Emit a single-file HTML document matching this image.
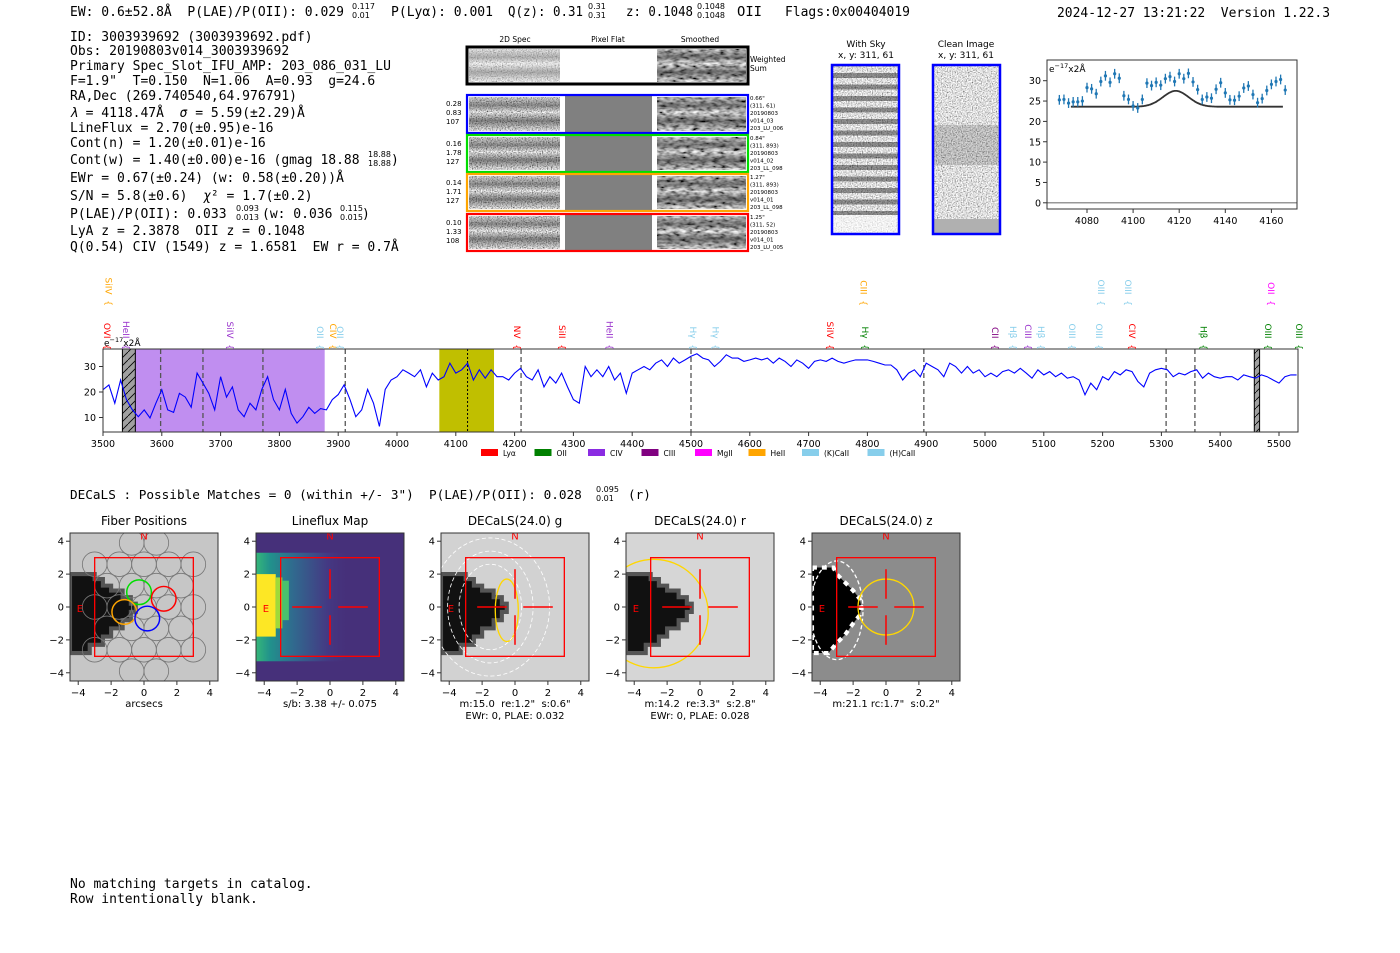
<!DOCTYPE html>
<html><head><meta charset="utf-8">
<style>
html,body{margin:0;padding:0;background:#fff;}
svg{display:block;}
text{white-space:pre;}
.m{font-family:"DejaVu Sans Mono","Liberation Mono",monospace;font-size:13px;fill:#000;}
.s{font-family:"DejaVu Sans","Liberation Sans",sans-serif;fill:#000;}
</style></head>
<body>
<svg id="root" width="1400" height="953" viewBox="0 0 1400 953" xmlns="http://www.w3.org/2000/svg" xml:space="preserve">
<defs>
<filter id="nz" x="0" y="0" width="1" height="1"><feTurbulence type="fractalNoise" baseFrequency="0.8" numOctaves="1" seed="4"/><feColorMatrix type="matrix" values="2.2 0 0 0 -0.45 2.2 0 0 0 -0.45 2.2 0 0 0 -0.45 0 0 0 0 1"/></filter>
<filter id="nzs" x="0" y="0" width="1" height="1"><feTurbulence type="fractalNoise" baseFrequency="0.15 0.35" numOctaves="2" seed="7"/><feColorMatrix type="matrix" values="1.8 0 0 0 -0.35 1.8 0 0 0 -0.35 1.8 0 0 0 -0.35 0 0 0 0 1"/></filter>
<linearGradient id="band2" x1="0" y1="0" x2="0" y2="1"><stop offset="0" stop-color="#000" stop-opacity="0.1"/><stop offset="0.25" stop-color="#000" stop-opacity="0.45"/><stop offset="0.45" stop-color="#000" stop-opacity="0"/><stop offset="0.7" stop-color="#000" stop-opacity="0.5"/><stop offset="1" stop-color="#000" stop-opacity="0"/></linearGradient>
<pattern id="skyp" width="68" height="11.5" patternUnits="userSpaceOnUse"><rect y="4" width="68" height="5" fill="#000" fill-opacity="0.4"/></pattern>
<pattern id="hatch" width="8" height="8" patternUnits="userSpaceOnUse"><path d="M0 8 L8 0" stroke="#000" stroke-width="0.8"/></pattern>
<linearGradient id="vir" x1="0" y1="0" x2="1" y2="0"><stop offset="0" stop-color="#35b779"/><stop offset="0.15" stop-color="#21918c"/><stop offset="0.4" stop-color="#31688e"/><stop offset="0.75" stop-color="#443983"/><stop offset="1" stop-color="#46307a" stop-opacity="0"/></linearGradient>
<clipPath id="specClip"><rect x="103" y="349" width="1195" height="83"/></clipPath>
</defs>

<g>
<text class="m" x="70" y="16">EW: 0.6±52.8Å  P(LAE)/P(OII): 0.029</text>
<text class="s" x="352" y="9" font-size="8">0.117</text>
<text class="s" x="352" y="18" font-size="8">0.01</text>
<text class="m" x="391" y="16" textLength="102" lengthAdjust="spacingAndGlyphs">P(Lyα): 0.001</text>
<text class="m" x="508" y="16" textLength="75" lengthAdjust="spacingAndGlyphs">Q(z): 0.31</text>
<text class="s" x="588" y="9" font-size="8">0.31</text>
<text class="s" x="588" y="18" font-size="8">0.31</text>
<text class="m" x="626" y="16" textLength="67" lengthAdjust="spacingAndGlyphs">z: 0.1048</text>
<text class="s" x="697" y="9" font-size="8">0.1048</text>
<text class="s" x="697" y="18" font-size="8">0.1048</text>
<text class="m" x="737" y="16" textLength="25" lengthAdjust="spacingAndGlyphs">OII</text>
<text class="m" x="785" y="16" textLength="125" lengthAdjust="spacingAndGlyphs">Flags:0x00404019</text>
<text class="m" x="1057" y="17" textLength="273" lengthAdjust="spacingAndGlyphs">2024-12-27 13:21:22  Version 1.22.3</text>
</g>

<g>
<text class="m" x="70" y="41">ID: 3003939692 (3003939692.pdf)</text>
<text class="m" x="70" y="55">Obs: 20190803v014_3003939692</text>
<text class="m" x="70" y="70">Primary Spec_Slot_IFU_AMP: 203_086_031_LU</text>
<text class="m" x="70" y="85">F=1.9"  T=0.150  N=1.06  A=0.93  g=24.6</text>
<text class="m" x="70" y="100">RA,Dec (269.740540,64.976791)</text>
<text class="m" x="70" y="117"><tspan font-style="italic">λ</tspan> = 4118.47Å  <tspan font-style="italic">σ</tspan> = 5.59(±2.29)Å</text>
<text class="m" x="70" y="132">LineFlux = 2.70(±0.95)e-16</text>
<text class="m" x="70" y="147">Cont(n) = 1.20(±0.01)e-16</text>
<text class="m" x="70" y="164">Cont(w) = 1.40(±0.00)e-16 (gmag 18.88</text>
<text class="s" x="368" y="157" font-size="8">18.88</text>
<text class="s" x="368" y="166" font-size="8">18.88</text>
<text class="m" x="391" y="164">)</text>
<text class="m" x="70" y="182">EWr = 0.67(±0.24) (w: 0.58(±0.20))Å</text>
<text class="m" x="70" y="200">S/N = 5.8(±0.6)  <tspan font-style="italic">χ</tspan>² = 1.7(±0.2)</text>
<text class="m" x="70" y="218">P(LAE)/P(OII): 0.033</text>
<text class="s" x="236" y="211" font-size="8">0.093</text>
<text class="s" x="236" y="220" font-size="8">0.013</text>
<text class="m" x="262" y="218">(w: 0.036</text>
<text class="s" x="340" y="211" font-size="8">0.115</text>
<text class="s" x="340" y="220" font-size="8">0.015</text>
<text class="m" x="362" y="218">)</text>
<text class="m" x="70" y="235">LyA z = 2.3878  OII z = 0.1048</text>
<text class="m" x="70" y="251">Q(0.54) CIV (1549) z = 1.6581  EW r = 0.7Å</text>
</g>

<g class="s">
<text x="515" y="42" font-size="7.5" text-anchor="middle">2D Spec</text>
<text x="608" y="42" font-size="7.5" text-anchor="middle">Pixel Flat</text>
<text x="700" y="42" font-size="7.5" text-anchor="middle">Smoothed</text>
<g id="rows2d"></g>
</g>

<g class="s">
<text x="866" y="47" font-size="9" text-anchor="middle">With Sky</text>
<text x="866" y="58" font-size="9" text-anchor="middle">x, y: 311, 61</text>
<rect x="832" y="65" width="67" height="169" filter="url(#nz)"/>
<rect x="832" y="65" width="67" height="169" fill="#fff" fill-opacity="0.25"/>
<rect x="832" y="65" width="67" height="150" fill="url(#skyp)"/>
<rect x="832" y="215" width="67" height="19" fill="#fff" fill-opacity="0.6"/>
<rect x="832" y="65" width="67" height="169" fill="none" stroke="#0000ff" stroke-width="2.5"/>
<text x="966" y="47" font-size="9" text-anchor="middle">Clean Image</text>
<text x="966" y="58" font-size="9" text-anchor="middle">x, y: 311, 61</text>
<rect x="933" y="65" width="67" height="169" filter="url(#nz)"/>
<rect x="933" y="65" width="67" height="169" fill="#fff" fill-opacity="0.25"/>
<rect x="933" y="125" width="67" height="40" fill="#000" fill-opacity="0.15"/>
<rect x="933" y="219" width="67" height="15" fill="#b0b0b0"/>
<rect x="933" y="65" width="67" height="169" fill="none" stroke="#0000ff" stroke-width="2.5"/>
</g>

<g id="fitChart" class="s"></g>
<g id="specChart" class="s"></g>

<text class="m" x="70" y="499" style="font-size:12.7px">DECaLS : Possible Matches = 0 (within +/- 3")  P(LAE)/P(OII): 0.028</text>
<text class="s" x="596" y="492" font-size="8">0.095</text>
<text class="s" x="596" y="501" font-size="8">0.01</text>
<text class="m" x="628" y="499" style="font-size:12.7px">(r)</text>

<g id="cutouts" class="s"></g>

<text class="m" x="70" y="888">No matching targets in catalog.</text>
<text class="m" x="70" y="903">Row intentionally blank.</text>
</svg>

<script>
const specStart = 3500;
const specStep = 10;
const specFlux = [20.9,22.8,15.6,24.7,17,13,10.3,13,9.8,15.6,
20.9,13,12,19.5,18,14,27.4,23.5,19.5,13,
26,18,22,13,10.3,15.6,13,21,26,17,
13,21,11.6,7.8,10.3,14,11.6,13.5,13,17,
19,22.8,17,10.3,13,21,15.6,6.5,21,24.7,
26,28.7,27.4,26,28.7,22,27.4,24.7,26,31.3,
27.4,28.7,31.3,24.7,28.7,25.4,28.7,26,26,24.7,
27.4,29.3,26,24.7,28.7,22,26,23.5,27.4,22,
17,15.6,30,26,28.7,26,30,24.7,27.4,19.5,
27.4,28.7,30,28.7,31.3,32.6,30,33.3,31.3,32.6,
34,35,33.3,32.6,30,32,34.6,33.3,33.3,32,
32.6,33.3,32.6,33.3,31.3,33.3,32,30,32.6,31.3,
29.3,32,32.6,32,33.3,32,31.3,32,32.6,32.6,
32.6,32,31.3,30.6,30.6,28.7,24.7,27.4,28.7,26,
31.3,30,28.7,26,31.3,30,27.4,30,27.4,28.7,
26,27.4,26,28,28.7,27.4,29.3,27.4,25.4,28.7,
26.7,28,26,27.4,25.4,26,24.7,18.9,23.5,20.9,
26,24.7,28,26.7,28.7,28,24.1,22,27.4,28.7,
29.3,28.7,26,27.4,26.7,28,28.7,25.4,27.4,26,
25.4,26,26,24.7,26.7,26,25.4,26.7,26,24.7,
23.5,26,26.7,26.7];
const specXTicks = [3500,3600,3700,3800,3900,4000,4100,4200,4300,4400,4500,4600,4700,4800,4900,5000,5100,5200,5300,5400,5500];
const specYTicks = [10,20,30];
const maskBands = [[3533,3555],[5458,5467]];
const civBand = [3555,3877];
const fitBand = [4072,4165];
const dashLines = [3598,3670,3772,3912,4211,4500,4896,5308,5357];
const dotLine = [4120];
const lineNamesLow = ["OVI","HeII","SiIV","OII","CIV","OII","NV","SiII","HeII","Hγ","Hγ","SiIV","Hγ","CII","Hβ","CIII","Hβ","OIII","OIII","CIV","Hβ","OIII","OIII"];
const lineWaveLow = [3507,3539,3716,3869,3891,3903,4204,4281,4361,4503,4542,4736,4796,5017,5048,5073,5095,5148,5194,5250,5372,5481,5534];
const lineColorLow = ["#ff0000","#9932cc","#9932cc","#87ceeb","#ffa500","#87ceeb","#ff0000","#ff0000","#9932cc","#87ceeb","#87ceeb","#ff0000","#008000","#800080","#87ceeb","#9932cc","#87ceeb","#87ceeb","#87ceeb","#ff0000","#008000","#008000","#008000"];
const lineNamesHigh = ["SiIV","CIII","OIII","OIII","OII"];
const lineWaveHigh = [3509,4793,5197,5243,5486];
const lineColorHigh = ["#ffa500","#ffa500","#87ceeb","#87ceeb","#ff00ff"];
const legendNames = ["Lyα","OII","CIV","CIII","MgII","HeII","(K)CaII","(H)CaII"];
const legendColors = ["#ff0000","#008000","#8a2be2","#800080","#ff00ff","#ffa500","#87ceeb","#87ceeb"];

const fitLam = [4068,4070,4072,4074,4076,4078,4080,4082,4084,4086,4088,4090,4092,4094,4096,4098,4100,4102,4104,4106,4108,4110,4112,4114,4116,4118,4120,4122,4124,4126,4128,4130,4132,4134,4136,4138,4140,4142,4144,4146,4148,4150,4152,4154,4156,4158,4160,4162,4164,4166];
const fitFlux = [25.3,25.4,24.5,24.8,24.8,25,28.3,28,26.8,29.8,31.2,29.6,31.7,30.6,26.3,25.4,23.8,23.3,25.4,29.4,28.8,29.6,28.9,30.5,31,29.8,31.7,30.5,31.8,29.7,27.8,25.4,26,25.7,27.9,29.5,27,25.3,25.2,26.2,28.2,28.7,26.6,24.6,25.6,27.6,29.1,29.8,30.3,27.7];
const fitErr = [1.2];
const modelParams = [23.6, 3.9, 4118.5, 5.59];
const modelRange = [4073,4165];
const fitXTicks = [4080,4100,4120,4140,4160];
const fitYTicks = [0,5,10,15,20,25,30];

const NS = "http://www.w3.org/2000/svg";
function el(tag, attrs, parent){const e=document.createElementNS(NS,tag);for(const k in attrs)e.setAttribute(k,attrs[k]);parent.appendChild(e);return e;}

(function(){
const g=document.getElementById('specChart');
const X=l=>103+(l-3500)*0.588;
const Y=v=>392-(v-20)*2.55;
const cg=el('g',{'clip-path':'url(#specClip)'},g);


let b=el('rect',{x:X(civBand[0]),y:349,width:X(civBand[1])-X(civBand[0]),height:83,fill:'#c08ef0'},cg);


b=el('rect',{x:X(fitBand[0]),y:349,width:X(fitBand[1])-X(fitBand[0]),height:83,fill:'#c0bf00'},cg);


maskBands.forEach(m=>{
 const r=el('rect',{x:X(m[0]),y:349,width:X(m[1])-X(m[0]),height:83,fill:'#a0a0a0',stroke:'#000','stroke-width':1},cg);
 
 
 const h=el('rect',{x:X(m[0]),y:349,width:X(m[1])-X(m[0]),height:83,fill:'url(#hatch)'},cg);
 
 
});
dashLines.forEach(l=>{
 const d=el('line',{x1:X(l),x2:X(l),y1:349,y2:432,stroke:'#555','stroke-width':1.3,'stroke-dasharray':'5,3'},cg);
 
 
});
dotLine.forEach(l=>{
 const d=el('line',{x1:X(l),x2:X(l),y1:349,y2:432,stroke:'#000','stroke-width':1,'stroke-dasharray':'2,2'},cg);
 
 
});
const pts=specFlux.map((v,i)=>X(specStart+i*specStep).toFixed(1)+','+Y(v).toFixed(1)).join(' ');
const pl=el('polyline',{points:pts,fill:'none',stroke:'#0000ff','stroke-width':1.1},cg);


const fr=el('rect',{x:103,y:349,width:1195,height:83,fill:'none',stroke:'#333','stroke-width':1},g);


specXTicks.forEach(t=>{
 const tk=el('line',{x1:X(t),x2:X(t),y1:432,y2:436,stroke:'#333'},g);
 
 
 const tx=el('text',{x:X(t),y:447,'font-size':9.5,'text-anchor':'middle'},g);
 tx.textContent=t;
 
 
});
specYTicks.forEach(t=>{
 const tk=el('line',{x1:99,x2:103,y1:Y(t),y2:Y(t),stroke:'#333'},g);
 
 
 const tx=el('text',{x:96,y:Y(t)+3.5,'font-size':9.5,'text-anchor':'end'},g);
 tx.textContent=t;
 
 
});
const u=el('text',{x:104,y:346,'font-size':9},g);
u.innerHTML='e<tspan dy="-4" font-size="6.5">−17</tspan><tspan dy="4">x2Å</tspan>';


function labels(names,waves,colors,yEnd,nm){
 names.forEach((n,i)=>{
  const t=el('text',{transform:`translate(${X(waves[i])-3},${yEnd}) rotate(90)`,'font-size':9,'text-anchor':'end',fill:colors[i]},g);
  t.textContent=n+'  {';
  
  
 });
}
labels(lineNamesLow,lineWaveLow,lineColorLow,350,'line-label');
labels(lineNamesHigh,lineWaveHigh,lineColorHigh,306,'line-label-upper');
legendNames.forEach((n,i)=>{
 const x0=481+i*53.5+(i==7?12:0);
 const r=el('rect',{x:x0,y:449,width:17,height:7,fill:legendColors[i]},g);
 
 
 const t=el('text',{x:x0+22,y:456,'font-size':7.5},g);
 t.textContent=n;
 
 
});
})();

(function(){
const g=document.getElementById('fitChart');
const X=l=>1087+(l-4080)*2.305;
const Y=v=>202.8-v*4.07;
const z=el('line',{x1:1047,x2:1297,y1:Y(0),y2:Y(0),stroke:'#777','stroke-width':1.2},g);


const mp=[];
for(let l=modelRange[0];l<=modelRange[1];l+=0.5){const v=modelParams[0]+modelParams[1]*Math.exp(-0.5*Math.pow((l-modelParams[2])/modelParams[3],2));mp.push(X(l).toFixed(1)+','+Y(v).toFixed(1));}
const m=el('polyline',{points:mp.join(' '),fill:'none',stroke:'#333','stroke-width':1.8},g);


fitLam.forEach((l,i)=>{
 const e=el('line',{x1:X(l),x2:X(l),y1:Y(fitFlux[i]+fitErr[0]),y2:Y(fitFlux[i]-fitErr[0]),stroke:'#1f77b4','stroke-width':1.3},g);
 
 
 const c=el('circle',{cx:X(l),cy:Y(fitFlux[i]),r:1.6,fill:'#1f77b4'},g);
 
 
});
const fr=el('rect',{x:1047,y:60,width:250,height:149,fill:'none',stroke:'#333'},g);


fitXTicks.forEach(t=>{
 const tk=el('line',{x1:X(t),x2:X(t),y1:209,y2:213,stroke:'#333'},g);
 
 
 const tx=el('text',{x:X(t),y:224,'font-size':9.5,'text-anchor':'middle'},g);
 tx.textContent=t;
 
 
});
fitYTicks.forEach(t=>{
 const tk=el('line',{x1:1043,x2:1047,y1:Y(t),y2:Y(t),stroke:'#333'},g);
 
 
 const tx=el('text',{x:1041,y:Y(t)+3.5,'font-size':9.5,'text-anchor':'end'},g);
 tx.textContent=t;
 
 
});
const u=el('text',{x:1049,y:72,'font-size':9},g);
u.innerHTML='e<tspan dy="-4" font-size="6.5">−17</tspan><tspan dy="4">x2Å</tspan>';


})();

(function(){
const g=document.getElementById('rows2d');
const rows=[{y:47,h:37,c:'#000',l:null,r:['Weighted','Sum']},
{y:95,h:38,c:'#0000ff',l:['0.28','0.83','107'],r:['0.66"','(311, 61)','20190803','v014_03','203_LU_006']},
{y:135,h:37,c:'#00dd00',l:['0.16','1.78','127'],r:['0.84"','(311, 893)','20190803','v014_02','203_LL_098']},
{y:174,h:37,c:'#ffa500',l:['0.14','1.71','127'],r:['1.27"','(311, 893)','20190803','v014_01','203_LL_098']},
{y:214,h:37,c:'#ff0000',l:['0.10','1.33','108'],r:['1.25"','(311, 52)','20190803','v014_01','203_LU_005']}];
rows.forEach((r,i)=>{
 const a=el('rect',{x:469,y:r.y+2,width:91,height:r.h-4,filter:'url(#nz)'},g);
 
 
 el('rect',{x:469,y:r.y+2,width:91,height:r.h-4,fill:'url(#band2)'},g);
 el('rect',{x:469,y:r.y+2,width:91,height:r.h-4,fill:'#fff','fill-opacity':i==0?0.4:0.1},g);
 const p=el('rect',{x:565,y:r.y+1,width:87,height:r.h-2,fill:i==0?'#fff':'#808080'},g);
 
 
 const s=el('rect',{x:657,y:r.y+2,width:89,height:r.h-4,filter:'url(#nzs)'},g);
 
 
 el('rect',{x:657,y:r.y+2,width:89,height:r.h-4,fill:'url(#band2)'},g);
 const f=el('rect',{x:467,y:r.y,width:281,height:r.h,fill:'none',stroke:r.c,'stroke-width':i==0?3:2.2},g);
 
 
 if(r.l){r.l.forEach((t,j)=>{const tx=el('text',{x:446,y:r.y+11+j*9,'font-size':7},g);tx.textContent=t;});}
 const fs=i==0?7.5:5.5, lh=i==0?9:7.5;
 r.r.forEach((t,j)=>{const tx=el('text',{x:750,y:r.y+(i==0?15:5)+j*lh,'font-size':fs},g);tx.textContent=t;});
});
})();

(function(){
const g=document.getElementById('cutouts');
const lefts=[70,256,441,626,812];
const titles=['Fiber Positions','Lineflux Map','DECaLS(24.0) g','DECaLS(24.0) r','DECaLS(24.0) z'];
const cap1=['arcsecs','s/b: 3.38 +/- 0.075','m:15.0  re:1.2"  s:0.6"','m:14.2  re:3.3"  s:2.8"','m:21.1 rc:1.7"  s:0.2"'];
const cap2=['','','EWr: 0, PLAE: 0.032','EWr: 0, PLAE: 0.028',''];
const blob="-4.5,2 -3,2 -3,1.7 -2.5,1.7 -2.5,1.3 -2,1.3 -2,1 -1.3,1 -1.3,0.6 -0.8,0.6 -0.8,0.2 -0.5,0.2 -0.5,-0.3 -0.8,-0.3 -0.8,-0.8 -1.3,-0.8 -1.3,-1.3 -2,-1.3 -2,-1.8 -2.5,-1.8 -2.5,-2.3 -3.3,-2.3 -3.3,-2.8 -4.5,-2.8";
const blobZ="-4.5,2.4 -3.2,2.4 -3,2 -2.5,1.5 -2,1 -1.6,0.5 -1.5,0 -1.6,-0.5 -2,-1 -2.5,-1.7 -3,-2.2 -3.5,-2.8 -4.5,-2.8";
lefts.forEach((L,i)=>{
 const cx=L+74, cy=607, S=148/9;
 const P=(x,y)=>[cx+x*S,cy-y*S];
 const clipId='cc'+i;
 const cp=el('clipPath',{id:clipId},g);
 el('rect',{x:L,y:533,width:148,height:148},cp);
 const pg=el('g',{'clip-path':`url(#${clipId})`},g);
 
 
 const bg=['#c6c6c6','#46307a','#d2d2d2','#d6d6d6','#8c8c8c'][i];
 el('rect',{x:L,y:533,width:148,height:148,fill:bg},pg);
 const tg=el('g',{transform:`translate(${cx},${cy}) scale(${S},${-S})`},pg);
 if(i==1){
  el('rect',{x:-4.5,y:-3.3,width:5.8,height:6.6,fill:'url(#vir)'},tg);
  el('rect',{x:-4.5,y:-1.8,width:1.2,height:3.8,fill:'#fde725'},tg);
  el('rect',{x:-3.3,y:-1.3,width:0.4,height:3.1,fill:'#9fda3a'},tg);
  el('rect',{x:-2.9,y:-0.8,width:0.4,height:2.4,fill:'#4ac16d'},tg);
 } else if(i==4){
  el('polygon',{points:blobZ,fill:'#000',stroke:'#fff','stroke-width':0.25,'stroke-dasharray':'0.3,0.3'},tg);
  el('ellipse',{cx:-3,cy:-0.2,rx:1.6,ry:3,fill:'none',stroke:'#fff','stroke-width':0.08,'stroke-dasharray':'0.25,0.15'},tg);
  el('circle',{cx:0,cy:0,r:1.7,fill:'none',stroke:'#ffd700','stroke-width':0.08},tg);
 } else {
  el('polygon',{points:blob,fill:'#111'},tg);
  el('polygon',{points:blob,fill:'none',stroke:'#555','stroke-width':0.25},tg);
 }
 if(i==0){
  for(let row=-3;row<=3;row++){for(let k=-3;k<=3;k++){
   const fx=k*1.5+(row%2?0.75:0), fy=row*1.3;
   if(fx< -3.5||fx>3.6||Math.hypot(fx,fy)>4.2) continue;
   const c=el('circle',{cx:fx,cy:fy,r:0.75,fill:'none',stroke:'#777','stroke-width':0.05},tg);
   
   
  }}
  [['#00dd00',-0.3,0.9],['#ff0000',1.2,0.5],['#ffa500',-1.2,-0.3],['#0000ff',0.2,-0.7]].forEach(f=>{
   const c=el('circle',{cx:f[1],cy:f[2],r:0.75,fill:'none',stroke:f[0],'stroke-width':0.09},tg);
   
   
  });
 }
 if(i==2){
  el('ellipse',{cx:-0.5,cy:-0.2,rx:0.7,ry:1.9,fill:'none',stroke:'#ffd700','stroke-width':0.08},tg);
  [[0.9,2.6],[1.6,3.4],[2.6,4.2]].forEach(e=>el('ellipse',{cx:-1.5,cy:0,rx:e[0]+1,ry:e[1],fill:'none',stroke:'#fff','stroke-width':0.05,'stroke-dasharray':'0.25,0.15'},tg));
 }
 if(i==3){
  el('circle',{cx:-2.8,cy:-0.4,r:3.3,fill:'none',stroke:'#ffd700','stroke-width':0.08},tg);
 }
 el('rect',{x:-3,y:-3,width:6,height:6,fill:'none',stroke:'#ff0000','stroke-width':0.08},tg);
 if(i>0){
  el('line',{x1:0,x2:0,y1:0.5,y2:2.3,stroke:'#ff0000','stroke-width':0.09},tg);
  el('line',{x1:0,x2:0,y1:-0.5,y2:-2.3,stroke:'#ff0000','stroke-width':0.09},tg);
  el('line',{x1:0.5,x2:2.3,y1:0,y2:0,stroke:'#ff0000','stroke-width':0.09},tg);
  el('line',{x1:-0.5,x2:-2.3,y1:0,y2:0,stroke:'#ff0000','stroke-width':0.09},tg);
 }
 let q=P(0,4.1);
 const n=el('text',{x:q[0],y:q[1],'font-size':10,'text-anchor':'middle',fill:'#ff0000'},pg);
 n.textContent='N';
 
 
 q=P(-3.9,-0.3);
 const e=el('text',{x:q[0],y:q[1],'font-size':10,'text-anchor':'middle',fill:'#ff0000'},pg);
 e.textContent='E';
 
 
 const fr=el('rect',{x:L,y:533,width:148,height:148,fill:'none',stroke:'#333'},g);
 
 
 const tt=el('text',{x:cx,y:525,'font-size':12,'text-anchor':'middle'},g);
 tt.textContent=titles[i];
 
 
 [-4,-2,0,2,4].forEach(v=>{
  const lab=v<0?'−'+(-v):''+v;
  let p=P(v,0);
  el('line',{x1:p[0],x2:p[0],y1:681,y2:685,stroke:'#333'},g);
  const tx=el('text',{x:p[0],y:696,'font-size':10,'text-anchor':'middle'},g);
  tx.textContent=lab;
  
  
  p=P(0,v);
  el('line',{x1:L-4,x2:L,y1:p[1],y2:p[1],stroke:'#333'},g);
  const ty=el('text',{x:L-6,y:p[1]+3.5,'font-size':10,'text-anchor':'end'},g);
  ty.textContent=lab;
  
  
 });
 const c1=el('text',{x:cx,y:707,'font-size':10,'text-anchor':'middle'},g);
 c1.textContent=cap1[i];
 
 
 if(cap2[i]){
  const c2=el('text',{x:cx,y:719,'font-size':10,'text-anchor':'middle'},g);
  c2.textContent=cap2[i];
  
  
 }
});
})();
</script>
</body></html>
